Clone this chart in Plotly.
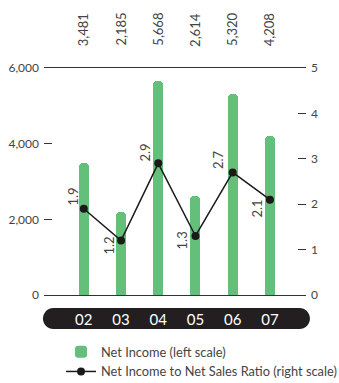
import plotly.graph_objects as go

years = ["02", "03", "04", "05", "06", "07"]
net_income = [3481, 2185, 5668, 2614, 5320, 4208]
ratio = [1.9, 1.2, 2.9, 1.3, 2.7, 2.1]
left_ticks = [0, 2000, 4000, 6000]
right_ticks = [0, 1, 2, 3, 4, 5]

GREEN = "#64bf7a"
TXT = "#444444"
FONT = "Lato"

# label offsets (pixels) for ratio labels
ratio_shift = [(-11, 12), (-13, -5), (-13, 11), (-13, -4), (-14, 13), (-13, -9)]

fig = go.Figure()
fig.add_trace(go.Bar(
    x=years, y=net_income, name="Net Income (left scale)",
    marker=dict(color=GREEN, cornerradius=4, line=dict(width=0)),
    width=0.27, yaxis="y",
))
fig.add_trace(go.Scatter(
    x=years, y=ratio, name="Net Income to Net Sales Ratio (right scale)",
    mode="lines+markers", line=dict(color="#1a1a1a", width=1.5),
    marker=dict(color="#1a1a1a", size=8), yaxis="y2",
))

ann = []
for i, v in enumerate(net_income):
    ann.append(dict(x=i, y=1.17, xref="x", yref="paper", text=f"{v:,}",
                    textangle=-90, showarrow=False, xanchor="center", yanchor="middle",
                    font=dict(size=13, color=TXT, family=FONT)))
for i, (r, (dx, dy)) in enumerate(zip(ratio, ratio_shift)):
    ann.append(dict(x=i, y=r, xref="x", yref="y2", text=f"{r}",
                    textangle=-90, showarrow=False, xanchor="center", yanchor="middle",
                    xshift=dx, yshift=dy,
                    font=dict(size=13, color=TXT, family=FONT)))

# rounded black band behind category labels (paper coords)
x0, x1, yt, yb = -0.004, 1.015, -0.057, -0.150
rx = 10.5 / 262
ry = (yt - yb) / 2
ym = (yt + yb) / 2
k = 0.5523
path = (
    f"M {x0+rx},{yt} L {x1-rx},{yt} "
    f"C {x1-rx+k*rx},{yt} {x1},{ym+k*ry} {x1},{ym} "
    f"C {x1},{ym-k*ry} {x1-rx+k*rx},{yb} {x1-rx},{yb} "
    f"L {x0+rx},{yb} "
    f"C {x0+rx-k*rx},{yb} {x0},{ym-k*ry} {x0},{ym} "
    f"C {x0},{ym+k*ry} {x0+rx-k*rx},{yt} {x0+rx},{yt} Z"
)

fig.update_layout(
    width=339, height=383,
    margin=dict(l=44, r=33, t=68, b=88, autoexpand=False),
    paper_bgcolor="white", plot_bgcolor="rgba(0,0,0,0)",
    font=dict(family=FONT, color=TXT, size=12),
    showlegend=True,
    legend=dict(x=0.065, y=-0.185, xanchor="left", yanchor="top",
                font=dict(size=12.8, color=TXT, family=FONT),
                itemwidth=30, tracegroupgap=0, bgcolor="rgba(0,0,0,0)",
                traceorder="normal"),
    bargap=0,
    xaxis=dict(type="category", range=[-1.07, 5.97], showgrid=False,
               showline=True, mirror=True, linecolor="#333", linewidth=1,
               ticks="", tickfont=dict(color="white", size=15, family=FONT),
               ticklabelstandoff=11, fixedrange=True, automargin=False),
    yaxis=dict(range=[0, 6000], tickvals=left_ticks, tickformat=",",
               showgrid=False, zeroline=False, showline=False,
               ticks="inside", ticklen=8, tickcolor="#333", tickwidth=1,
               tickfont=dict(size=12, color=TXT), ticklabelstandoff=4,
               automargin=False),
    yaxis2=dict(range=[0, 5], tickvals=right_ticks, overlaying="y", side="right",
                showgrid=False, zeroline=False, showline=False,
                ticks="inside", ticklen=8, tickcolor="#333", tickwidth=1,
                tickfont=dict(size=12, color=TXT), ticklabelstandoff=4,
                automargin=False),
    annotations=ann,
    shapes=[dict(type="path", path=path, xref="paper", yref="paper",
                 fillcolor="#231f20", line=dict(width=0), layer="below")],
)

fig.write_html("out.html")
